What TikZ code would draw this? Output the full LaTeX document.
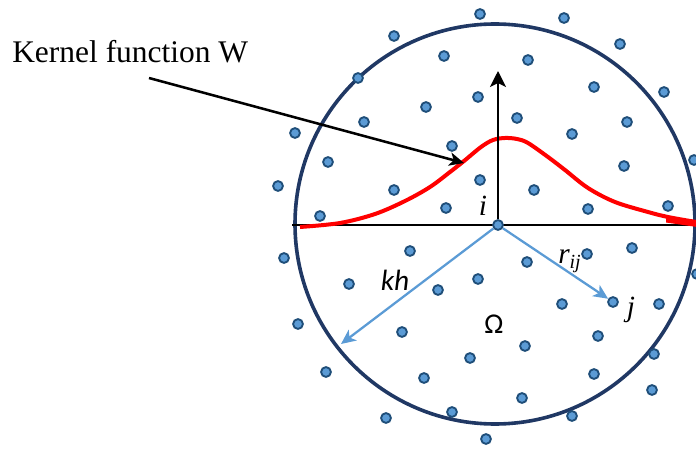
\documentclass[tikz,border=0pt]{standalone}
\usepackage{fontspec}
\setmainfont{Liberation Serif}
\newfontfamily\calfont{Carlito}
\usepackage{tikz}
\usetikzlibrary{arrows.meta}
\definecolor{rimnavy}{HTML}{203864}
\definecolor{partblue}{HTML}{5B9BD5}
\definecolor{partedge}{HTML}{1F4E79}
\definecolor{radblue}{HTML}{5B9BD5}
\tikzset{
  particle/.style={circle,draw=partedge,fill=partblue,line width=1.4pt,
    inner sep=0pt,minimum size=7.4pt},
  radarrow/.style={-{Stealth[length=11pt,width=10pt,inset=3pt]},line width=1.7pt,draw=radblue},
  ptrarrow/.style={-{Stealth[length=11pt,width=10pt,inset=3pt]},line width=1.9pt,draw=black},
  kernelcurve/.style={draw=red,line width=3pt},
  symlabel/.style={inner sep=0pt,anchor=base}
}

\begin{document}
\begin{tikzpicture}[x=0.75pt,y=-0.75pt]
\useasboundingbox (0,0) rectangle (696,449);

% support domain and axis
\draw[rimnavy,line width=2.7pt] (495,224) circle[radius=200];
\coordinate (ctr) at (498,225);
\coordinate (axl) at (292,225);
\coordinate (axr) at (696,225);
\draw[line width=0.9pt] (axl) -- (axr);

% kernel W
\draw[kernelcurve] plot[smooth,tension=0.55] coordinates {(300,227) (340,223) (375,214) (405,201)
  (430,187) (450,172) (464,161) (481,147) (493,140) (505,138) (517,139) (528,143) (548,157) (565,170)
  (588,188) (615,202) (648,212) (668,217) (696,222)};
\fill[red] (666,218) -- (697,220) -- (697,227) -- (666,222.5) -- cycle;

% particles
\foreach \px/\py [count=\n] in {480/14,564/18,394/36,620/44,664/92,295/133,278/186,284/258,
  298/324,326/372,386/418,486/439,652/390,654/354,694/160,697/274,358/78,452/412,572/416,
  444/56,528/60,478/97,426/107,594/87,364/122,517/118,627/122,572/134,328/162,452/146,
  624/166,480/180,394/190,534/190,320/216,446/208,588/209,668/206,410/251,527/262,587/254,
  632/248,349/284,478/279,438/290,562/304,659/304,402/332,525/346,598/336,470/358,
  424/378,594/374,522/398}
  \node[particle] (p\n) at (\px,\py) {};
\node[particle] (pi) at (ctr) {};
\node[particle] (pj) at (613,302) {};

% arrows
\coordinate (itop) at (498,71);
\coordinate (khend) at (341,344);
\coordinate (kstart) at (149,78);
\coordinate (ktip) at (464,163);
\draw[-{Stealth[length=12pt,width=12pt,inset=3pt]},line width=1.9pt] (pi) -- (itop);
\draw[radarrow] (pi) -- (khend);
\draw[radarrow] (pi) -- (pj);
\draw[ptrarrow] (kstart) -- (ktip);

% labels
\node[anchor=base west,inner sep=0pt,font=\fontsize{23.6}{26}\selectfont] (kernel) at (12,63) {Kernel function W};
\node[symlabel,font=\fontsize{22}{24}\selectfont\itshape] (ilab) at (483,215) {i};
\node[symlabel,font=\calfont\fontsize{22}{24}\selectfont\itshape] (khlab) at (395,290) {kh};
\node[symlabel,font=\calfont\fontsize{21.5}{24}\selectfont] (omega) at (494,333) {Ω};
\node[symlabel,anchor=base west,font=\fontsize{22}{24}\selectfont\itshape] (rlab) at (558,263)
  {r\raisebox{-0.4ex}{\fontsize{15}{16}\selectfont ij}};
\node[symlabel,font=\fontsize{22}{24}\selectfont\itshape] (jlab) at (631,316) {j};
\end{tikzpicture}
\end{document}
